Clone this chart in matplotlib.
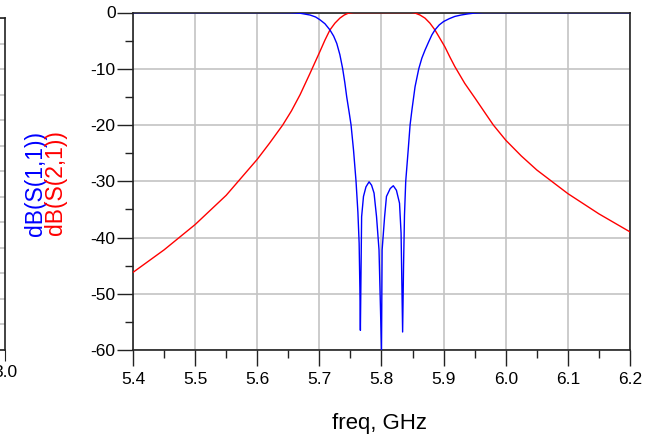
import matplotlib
matplotlib.use("Agg")
import matplotlib.pyplot as plt
from matplotlib.ticker import MultipleLocator

plt.rcParams['font.family'] = ['Liberation Sans', 'DejaVu Sans']
plt.rcParams['axes.unicode_minus'] = False

# S21 (red)
s21_freq = [5.40, 5.45, 5.50, 5.55, 5.60, 5.62, 5.641, 5.655, 5.669,
            5.685, 5.701, 5.709, 5.717, 5.725, 5.733, 5.740, 5.746, 5.755, 5.80,
            5.848, 5.854, 5.862, 5.870, 5.878, 5.886, 5.894, 5.902, 5.910, 5.918,
            5.934, 5.951, 5.967, 5.980, 6.00, 6.025, 6.05, 6.10, 6.15, 6.20]
s21_db = [-46.2, -42.2, -37.7, -32.5, -26.1, -23.2, -20.0, -17.5, -14.6,
          -10.8, -6.9, -4.9, -3.1, -1.9, -1.0, -0.45, -0.15, 0.0, 0.0,
          0.0, -0.1, -0.45, -1.0, -1.9, -3.1, -4.6, -6.1, -7.9, -9.6,
          -12.6, -15.3, -17.9, -20.0, -22.7, -25.5, -28.0, -32.2, -35.8, -39.0]

# S11 (blue)
s11_freq = [5.40, 5.62, 5.653, 5.67, 5.685, 5.694, 5.701, 5.709, 5.717, 5.723,
            5.728, 5.733, 5.7375, 5.741, 5.744, 5.748, 5.751, 5.755, 5.759, 5.762,
            5.764, 5.7652, 5.766, 5.768, 5.771, 5.775, 5.780, 5.784, 5.788, 5.792,
            5.796, 5.800, 5.801, 5.805, 5.808, 5.814, 5.819, 5.824, 5.829, 5.8315,
            5.834, 5.8355, 5.837, 5.839, 5.843, 5.846, 5.849, 5.854, 5.860, 5.865,
            5.870, 5.876, 5.881, 5.886, 5.893, 5.900, 5.909, 5.918, 5.928, 5.939,
            5.950, 5.965, 6.20]
s11_db = [0.0, 0.0, -0.03, -0.15, -0.45, -0.8, -1.3, -2.0, -3.1, -4.2,
          -5.5, -7.5, -10.0, -12.5, -15.0, -17.8, -20.0, -24.5, -30.0, -35.5,
          -41.0, -49.0, -56.5, -36.3, -32.7, -31.0, -30.1, -30.7, -32.1, -36.3,
          -42.2, -60.0, -42.2, -36.3, -32.7, -31.3, -30.8, -31.6, -33.9, -39.2,
          -56.8, -45.0, -36.0, -30.0, -24.4, -20.0, -17.3, -13.2, -10.0, -8.1,
          -6.7, -5.2, -4.0, -3.1, -2.2, -1.6, -1.1, -0.7, -0.45, -0.25,
          -0.1, 0.0, 0.0]

x_ticks = [5.4, 5.5, 5.6, 5.7, 5.8, 5.9, 6.0, 6.1, 6.2]
y_ticks = [0, -10, -20, -30, -40, -50, -60]

W, H = 657, 438
fig = plt.figure(figsize=(W / 100, H / 100), dpi=100)

spine_col = '#222222'
grid_col = '#c4c4c4'

# partial neighbouring panel cut off at the left edge
axl = fig.add_axes([-80 / W, 1 - 350 / H, 85 / W, (350 - 18) / H])
axl.set_xlim(2.0, 3.0)
axl.set_ylim(0, 13)
axl.set_xticks([3.0])
axl.set_xticklabels(['3.0'])
axl.yaxis.set_major_locator(MultipleLocator(1))
axl.set_yticklabels([])
axl.grid(True, axis='y', color=grid_col, linewidth=1.2)
axl.tick_params(axis='x', direction='out', length=8, labelsize=12.5, pad=3, color=spine_col)
axl.tick_params(axis='y', length=0)
for s in axl.spines.values():
    s.set_color(spine_col)
    s.set_linewidth(1.2)

# main panel
ax = fig.add_axes([133 / W, 1 - 350 / H, (630 - 133) / W, (350 - 12.5) / H])
ax.plot(s21_freq, s21_db, color='#ff0000', linewidth=1.0, zorder=3)
ax.plot(s11_freq, s11_db, color='#0000ff', linewidth=1.0, zorder=3)

ax.set_xlim(5.4, 6.2)
ax.set_ylim(-60, 0)
ax.set_xticks(x_ticks)
ax.set_xticklabels([f"{v:.1f}" for v in x_ticks])
ax.set_yticks(y_ticks)
ax.set_yticklabels([str(v) for v in y_ticks])
ax.xaxis.set_minor_locator(MultipleLocator(0.05))
ax.yaxis.set_minor_locator(MultipleLocator(5))
ax.grid(True, which='major', color=grid_col, linewidth=1.2)
ax.set_axisbelow(True)
ax.tick_params(which='major', direction='out', length=11.5, width=1.0,
               color=spine_col, labelsize=12.5)
ax.tick_params(axis='x', which='major', pad=4)
ax.tick_params(axis='y', which='major', pad=1)
ax.tick_params(which='minor', direction='out', length=6, width=1.0, color=spine_col)
for s in ax.spines.values():
    s.set_color(spine_col)
    s.set_linewidth(1.2)

fig.text(380 / W, 1 - 424 / H, "freq, GHz", fontsize=16, ha='center', va='center')
fig.text(35 / W, 1 - 183 / H, "dB(S(1,1))", fontsize=16.5, color='#0000ff',
         rotation=90, ha='center', va='center')
fig.text(56 / W, 1 - 183 / H, "dB(S(2,1))", fontsize=16.5, color='#ff0000',
         rotation=90, ha='center', va='center')

fig.savefig("out.png", dpi=100)
